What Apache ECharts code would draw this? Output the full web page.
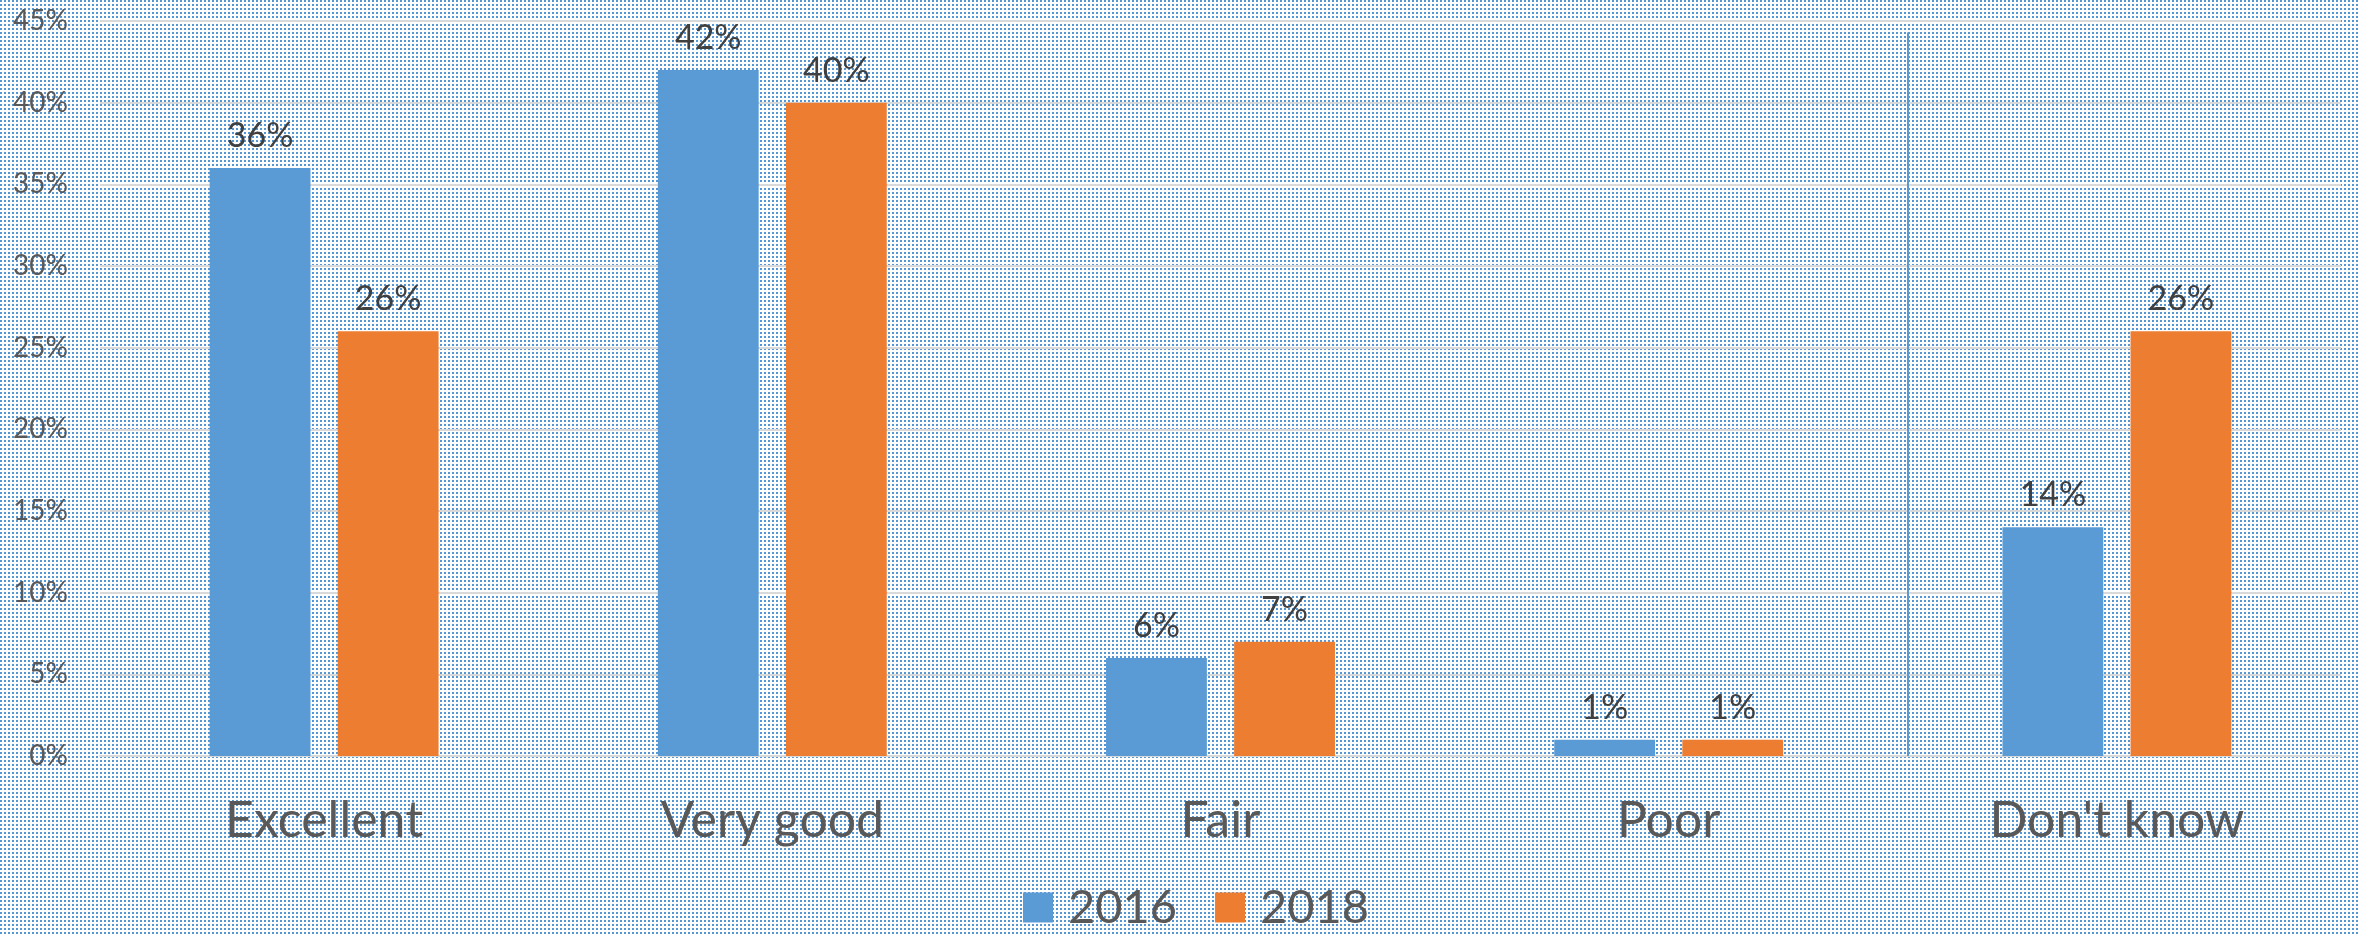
<!DOCTYPE html>
<html>
<head>
<meta charset="utf-8">
<style>
  html, body { margin: 0; padding: 0; background: #fff; }
  #chart { width: 2359px; height: 936px; }
</style>
<script src="https://cdn.jsdelivr.net/npm/echarts@6/dist/echarts.min.js"></script>
</head>
<body>
<div id="chart"></div>
<script>
const categories = ["Excellent", "Very good", "Fair", "Poor", "Don't know"];
const seriesNames = ["2016", "2018"];
const values2016 = [36, 42, 6, 1, 14];
const values2018 = [26, 40, 7, 1, 26];
const yTicks = [0, 5, 10, 15, 20, 25, 30, 35, 40, 45];
const separatorAt = 3.533; // category-index position of the vertical separator

const FONT = 'Lato, "Open Sans", sans-serif';
const BLUE = '#5b9bd5';
const ORANGE = '#ed7d31';

// dotted background pattern
const tile = document.createElement('canvas');
tile.width = 4; tile.height = 4;
const tctx = tile.getContext('2d');
tctx.fillStyle = '#ffffff';
tctx.fillRect(0, 0, 4, 4);
tctx.fillStyle = '#5596d4';
tctx.fillRect(0, 0, 2, 2);

const chart = echarts.init(document.getElementById('chart'), null, { renderer: 'canvas' });

const labelStyle = {
  show: true,
  position: 'top',
  distance: 15,
  formatter: '{c}%',
  fontFamily: FONT,
  fontSize: 34,
  color: '#404040'
};

chart.setOption({
  backgroundColor: { image: tile, repeat: 'repeat' },
  animation: false,
  grid: { left: 100, right: 18, top: 21, bottom: 180, containLabel: false },
  legend: {
    data: seriesNames,
    bottom: 0,
    left: 1018,
    itemWidth: 30,
    itemHeight: 30,
    itemGap: 38,
    icon: 'rect',
    textStyle: { fontFamily: FONT, fontSize: 47, color: '#595959', padding: [0, 0, 0, 10] }
  },
  xAxis: {
    type: 'category',
    data: categories,
    axisLine: { show: true, lineStyle: { color: '#d9d9d9', width: 2 } },
    axisTick: { show: false },
    axisLabel: { fontFamily: FONT, fontSize: 50, color: '#595959', margin: 40 }
  },
  yAxis: {
    type: 'value',
    min: yTicks[0],
    max: yTicks[yTicks.length - 1],
    interval: 5,
    axisLine: { show: false },
    axisTick: { show: false },
    splitLine: { lineStyle: { color: '#d9d9d9', width: 2 } },
    axisLabel: { formatter: '{value}%', fontFamily: FONT, fontSize: 28, color: '#595959', margin: 32 }
  },
  series: [
    {
      name: seriesNames[0],
      type: 'bar',
      data: values2016,
      barWidth: '22.5%',
      barGap: '27%',
      itemStyle: { color: BLUE },
      label: labelStyle
    },
    {
      name: seriesNames[1],
      type: 'bar',
      data: values2018,
      barWidth: '22.5%',
      barGap: '27%',
      itemStyle: { color: ORANGE },
      label: labelStyle
    }
  ]
});

// vertical separator line between "Poor" and "Don't know"
const p3 = chart.convertToPixel({ xAxisIndex: 0 }, 3);
const p4 = chart.convertToPixel({ xAxisIndex: 0 }, 4);
const sx = p3 + (separatorAt - 3) * (p4 - p3);
const yTop = chart.convertToPixel({ yAxisIndex: 0 }, 44.3);
const yBottom = chart.convertToPixel({ yAxisIndex: 0 }, 0);
chart.setOption({
  graphic: [{
    type: 'line',
    shape: { x1: Math.round(sx), y1: yTop, x2: Math.round(sx), y2: yBottom },
    style: { stroke: '#5b9bd5', lineWidth: 2 },
    z: 100
  }]
});
</script>
</body>
</html>
